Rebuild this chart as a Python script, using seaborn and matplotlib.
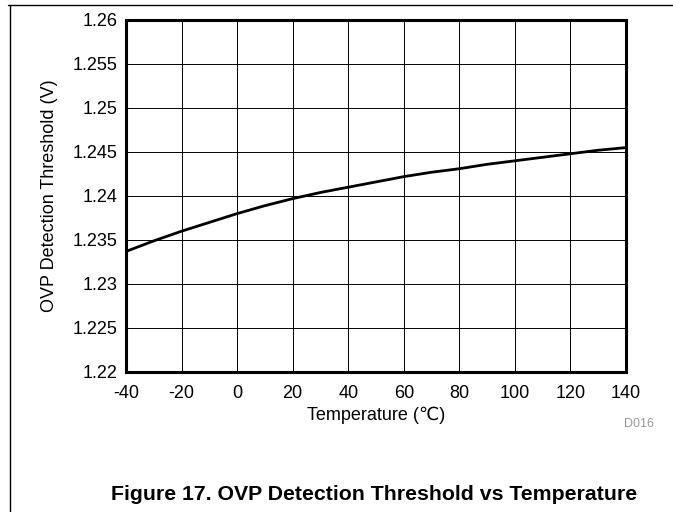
import matplotlib
matplotlib.use("Agg")
import matplotlib.pyplot as plt
import seaborn as sns
import pandas as pd
from matplotlib.lines import Line2D

temperature = [-40, -30, -20, -10, 0, 10, 20, 30, 40, 50, 60, 70, 80, 90, 100, 110, 120, 130, 140]
threshold = [1.2337, 1.2349, 1.2360, 1.2370, 1.2380, 1.2389, 1.2397, 1.2404, 1.2410, 1.2416,
             1.2422, 1.2427, 1.2431, 1.2436, 1.2440, 1.2444, 1.2448, 1.2452, 1.2455]
x_ticks = [-40, -20, 0, 20, 40, 60, 80, 100, 120, 140]
y_ticks = [1.22, 1.225, 1.23, 1.235, 1.24, 1.245, 1.25, 1.255, 1.26]
y_tick_labels = ["1.22", "1.225", "1.23", "1.235", "1.24", "1.245", "1.25", "1.255", "1.26"]

sns.set_theme(style="white")
plt.rcParams['font.family'] = ['Liberation Sans', 'DejaVu Sans']

df = pd.DataFrame({"Temperature": temperature, "Threshold": threshold})

W, H = 673, 512
fig = plt.figure(figsize=(W / 100, H / 100), dpi=100)
ax = fig.add_axes([126 / W, 1 - 372 / H, 500 / W, 352 / H])

sns.lineplot(data=df, x="Temperature", y="Threshold", ax=ax, color="black", linewidth=2.0)

ax.set_xlim(-40, 140)
ax.set_ylim(1.22, 1.26)
ax.set_xticks(x_ticks)
ax.set_xticklabels([str(t) for t in x_ticks])
ax.set_yticks(y_ticks)
ax.set_yticklabels(y_tick_labels)
ax.grid(True, color="black", linewidth=0.7)
ax.set_axisbelow(True)
for s in ax.spines.values():
    s.set_color("black")
    s.set_linewidth(2.2)
ax.tick_params(axis="both", length=0, labelsize=13, colors="black")
ax.tick_params(axis="x", pad=9)
ax.tick_params(axis="y", pad=6)

ax.set_xlabel("Temperature (\u2103)", fontsize=13, color="black", labelpad=4)
ax.set_ylabel("OVP Detection Threshold (V)", fontsize=13, color="black")
ax.yaxis.set_label_coords((58 - 126) / 500, 0.5)

fig.text(654 / W, 1 - 424 / H, "D016", fontsize=9, color="#999999", ha="right", va="center")
fig.text(374 / W, 1 - 494 / H, "Figure 17. OVP Detection Threshold vs Temperature",
         fontsize=15.3, fontweight="bold", color="black", ha="center", va="center")

fig.add_artist(Line2D([8 / W, 1], [1 - 5 / H, 1 - 5 / H], transform=fig.transFigure, color="black", linewidth=1))
fig.add_artist(Line2D([10 / W, 10 / W], [0, 1 - 5 / H], transform=fig.transFigure, color="black", linewidth=1))

fig.savefig("out.png", dpi=100)
